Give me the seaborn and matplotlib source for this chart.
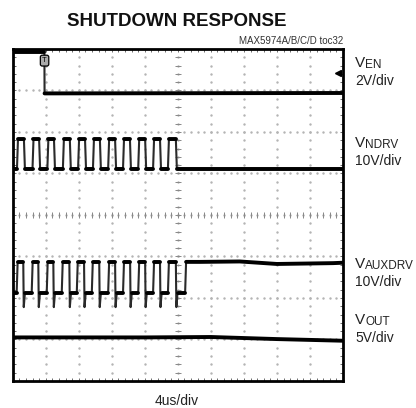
import numpy as np
import pandas as pd
import seaborn as sns
from matplotlib import pyplot as plt

# time axis in microseconds (4us/div), vertical axis in screen divisions
ven_time = [0.0, 3.84, 3.86, 40.0]
ven_level = [7.93, 7.93, 6.93, 6.94]

ndrv_high, ndrv_low = 5.82, 5.12
ndrv_rise = [0.52, 2.40, 4.20, 6.08, 7.92, 9.72, 11.56, 13.36, 15.20, 17.00, 18.80]
ndrv_fall = [1.36, 3.20, 5.00, 6.92, 8.76, 10.56, 12.40, 14.20, 16.04, 17.84, 19.76]

aux_high, aux_low, aux_spike = 2.87, 2.12, 1.78
aux_rise = [0.48, 2.30, 4.12, 5.94, 7.76, 9.58, 11.56, 13.36, 15.20, 17.00, 18.80, 20.88]
aux_fall = [1.28, 3.10, 4.92, 6.86, 8.64, 10.48, 12.40, 14.22, 16.04, 17.84, 19.76]
aux_tail_time = [22.7, 27.5, 32.0, 38.8, 40.0]
aux_tail_level = [2.90, 2.88, 2.82, 2.84, 2.85]

vout_time = [0.0, 16.0, 24.0, 32.0, 40.0]
vout_level = [1.05, 1.05, 1.06, 1.01, 0.97]

labels = [("V", "EN", "2V/div", 63), ("V", "NDRV", "10V/div", 143),
          ("V", "AUXDRV", "10V/div", 264), ("V", "OUT", "5V/div", 320)]


def square(rise, fall, hi, lo, end, spike=None):
    t, v = [0.0], [lo]
    edges = sorted([(r, "r") for r in rise] + [(f, "f") for f in fall])
    for x, kind in edges:
        if kind == "r":
            t += [x, x + 0.12]
            v += [lo, hi]
        elif spike is None:
            t += [x, x + 0.12]
            v += [hi, lo]
        else:
            t += [x, x + 0.06, x + 0.2]
            v += [hi, spike, lo]
    t.append(end)
    v.append(v[-1])
    return t, v


nt, nv = square(ndrv_rise, ndrv_fall, ndrv_high, ndrv_low, 40.0)
at, av = square(aux_rise, aux_fall, aux_high, aux_low, aux_tail_time[0], aux_spike)
at += aux_tail_time[1:]
av += aux_tail_level[1:]

traces = pd.concat([
    pd.DataFrame({"t": ven_time, "v": ven_level, "trace": "EN"}),
    pd.DataFrame({"t": nt, "v": nv, "trace": "NDRV"}),
    pd.DataFrame({"t": at, "v": av, "trace": "AUXDRV"}),
    pd.DataFrame({"t": vout_time, "v": vout_level, "trace": "OUT"}),
], ignore_index=True)
# flat stretches (heavy on a scope screen) vs. fast edges (fainter)
jump = (traces["v"].diff().abs() > 0.3) | (traces["trace"] != traces["trace"].shift())
traces["seg"] = jump.cumsum()

sns.set_style("white")
plt.rcParams["font.family"] = ["Liberation Sans", "DejaVu Sans"]

fig = plt.figure(figsize=(4.16, 4.08), dpi=100)
ax = fig.add_axes([0.0305, 0.0662, 0.794, 0.8137])

# graticule: dotted at each division, dots every 0.2 div
sub_x = np.arange(0, 40.01, 0.8)
sub_y = np.arange(0, 8.01, 0.2)
for gx in range(4, 40, 4):
    ax.plot([gx] * len(sub_y), sub_y, ls="none", marker="s", ms=0.7, color="#b4b4b4")
for gy in range(1, 8):
    ax.plot(sub_x, [gy] * len(sub_x), ls="none", marker="s", ms=0.7, color="#b4b4b4")
ax.plot(sub_x, [4] * len(sub_x), ls="none", marker="|", ms=4, mew=0.7, color="#888888")
ax.plot([20] * len(sub_y), sub_y, ls="none", marker="_", ms=5, mew=0.7, color="#888888")

for name, grp in traces.groupby("trace", sort=False):
    sns.lineplot(data=grp, x="t", y="v", sort=False, estimator=None,
                 color="#2a2a2a", lw=1.5, ax=ax, legend=False)
sns.lineplot(data=traces, x="t", y="v", units="seg", sort=False, estimator=None,
             color="black", lw=2.8, ax=ax, legend=False)

# trigger markers
ax.text(3.86, 7.72, "T", fontsize=5.5, ha="center", va="center", color="black",
        bbox=dict(boxstyle="round,pad=0.25", fc="#aaaaaa", ec="black", lw=0.9))
ax.plot([39.4], [7.42], marker="<", ms=4, color="black")

ax.set_xlim(0, 40)
ax.set_ylim(0, 8)
ax.set_xticks([])
ax.set_yticks([])
ax.set_xticks(np.arange(0, 40.01, 0.8), minor=True)
ax.set_yticks(np.arange(0, 8.01, 0.2), minor=True)
ax.tick_params(which="minor", direction="in", length=2, width=0.6, color="#555555",
               top=True, right=True, bottom=True, left=True)
ax.set_xlabel("")
ax.set_ylabel("")
for s in ax.spines.values():
    s.set_linewidth(2)
    s.set_color("black")

W, H = 416, 408
fig.text(177 / W, 1 - 21 / H, "SHUTDOWN RESPONSE", ha="center", va="center",
         fontsize=13.5, fontweight="bold", color="#111111")
fig.text(343 / W, 1 - 41 / H, "MAX5974A/B/C/D toc32", ha="right", va="center",
         fontsize=7, color="#333333")
fig.text(177 / W, 1 - 401 / H, "4us/div", ha="center", va="center",
         fontsize=10, color="#222222")

for v, sub, scale, py in labels:
    vt = fig.text(355 / W, 1 - py / H, v, ha="left", va="center",
                  fontsize=11, color="#222222")
    ax.annotate(sub, xy=(1, 0), xycoords=vt, xytext=(0, -1.0),
                textcoords="offset points", ha="left", va="bottom",
                fontsize=8.5, color="#222222")
    fig.text(355 / W, 1 - (py + 18) / H, scale, ha="left", va="center",
             fontsize=10, color="#222222")

fig.savefig("out.png", dpi=100)
